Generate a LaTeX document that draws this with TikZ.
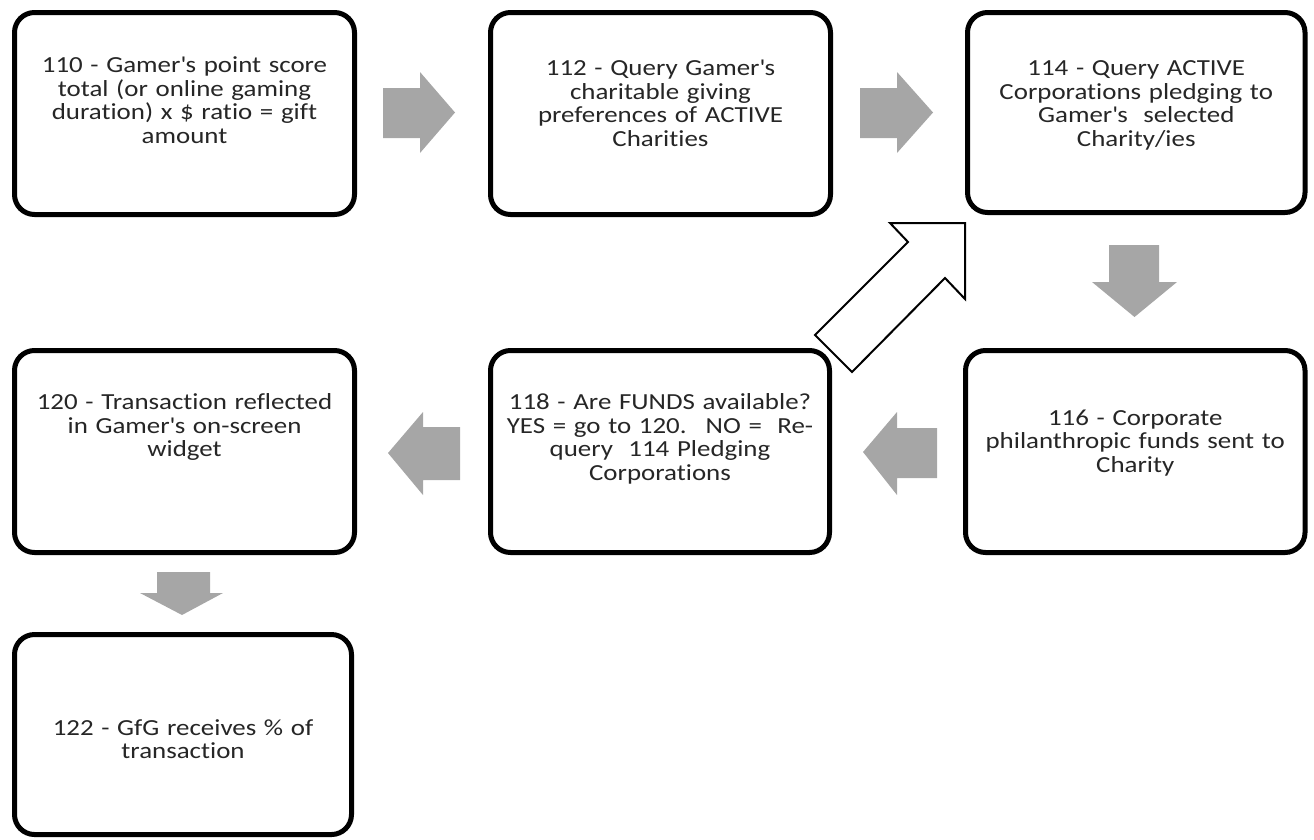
\documentclass[tikz,border=0pt]{standalone}
\usepackage{fontspec}
\setmainfont{Carlito}[FakeStretch=1.17, Ligatures={NoCommon}]
\definecolor{arrowgray}{HTML}{A6A6A6}
\definecolor{txtgray}{HTML}{262626}
\tikzset{
  box/.style={draw=black, line width=5pt, rounded corners=20pt, fill=white, inner sep=0pt},
  txt/.style={text width=360pt, align=center, inner sep=0pt, text=txtgray,
    font=\fontsize{23}{23.5}\selectfont, anchor=base},
  blockarrow/.style={fill=arrowgray, draw=none},
  hollowarrow/.style={fill=white, draw=black, line width=2pt, line join=miter}
}
\begin{document}
\begin{tikzpicture}[x=1pt,y=-1pt]
\useasboundingbox (0,0) rectangle (1314,839);
% boxes
\node[box, minimum width=340pt, minimum height=202pt] (b110) at (184.5,113.5) {};
\node[box, minimum width=340pt, minimum height=202pt] (b112) at (660.5,113.5) {};
\node[box, minimum width=337.5pt, minimum height=200pt] (b114) at (1136.25,112.5) {};
\node[box, minimum width=339.5pt, minimum height=202pt] (b116) at (1135.25,451.5) {};
\node[box, minimum width=339pt, minimum height=202pt] (b118) at (660,451.5) {};
\node[box, minimum width=340pt, minimum height=202pt] (b120) at (184.5,451.5) {};
\node[box, minimum width=337pt, minimum height=200pt] (b122) at (183,734.5) {};
% texts
\node[txt] (t110) at (184.5,72.5) {110 - Gamer\textquotesingle s point score\\ total (or online gaming\\ duration) x \$ ratio = gift\\ amount};
\node[txt] (t112) at (660.5,75.5) {112 - Query Gamer\textquotesingle s\\ charitable giving\\ preferences of ACTIVE\\ Charities};
\node[txt] (t114) at (1136.25,75.5) {114 - Query ACTIVE\\ Corporations pledging to\\ Gamer\textquotesingle s~ selected\\ Charity/ies};
\node[txt] (t116) at (1135.25,425) {116 - Corporate\\ philanthropic funds sent to\\ Charity};
\node[txt] (t118) at (660,409.5) {118 - Are FUNDS available?\\ YES = go to 120.~ NO =~ Re-\\ query~ 114 Pledging\\ Corporations};
\node[txt] (t120) at (184.5,409.5) {120 - Transaction reflected\\ in Gamer\textquotesingle s on-screen\\ widget};
\node[txt] (t122) at (183,735) {122 - GfG receives \% of\\ transaction};
% gray block arrows
\fill[blockarrow] (383,88) -- (420,88) -- (420,72) -- (455,112.5) -- (420,153) -- (420,138) -- (383,138) -- cycle;
\fill[blockarrow] (860,88) -- (897,88) -- (897,72) -- (933,112.5) -- (897,153) -- (897,138) -- (860,138) -- cycle;
\fill[blockarrow] (1109,245) -- (1159,245) -- (1159,282) -- (1177,282) -- (1134.5,317) -- (1092,282) -- (1109,282) -- cycle;
\fill[blockarrow] (937,428) -- (897,428) -- (897,412) -- (863,452) -- (897,495) -- (897,478) -- (937,478) -- cycle;
\fill[blockarrow] (460,427) -- (423,427) -- (423,412) -- (388,453) -- (423,495) -- (423,480) -- (460,480) -- cycle;
\fill[blockarrow] (157,572) -- (210,572) -- (210,593) -- (223,593) -- (182,615) -- (140,593) -- (157,593) -- cycle;
% hollow arrow
\draw[hollowarrow] (815,335) -- (908,242) -- (890,223) -- (965,223) -- (965,299) -- (945,278) -- (852,372) -- cycle;
\end{tikzpicture}
\end{document}
